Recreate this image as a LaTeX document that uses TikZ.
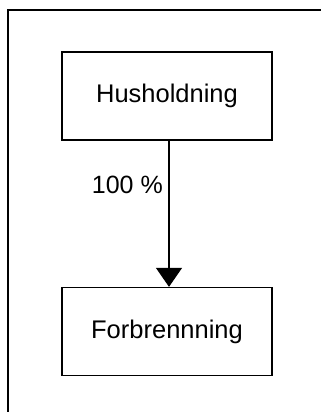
\documentclass[tikz,border=0pt]{standalone}
\usepackage{fontspec}
\setmainfont{Liberation Sans}
\usetikzlibrary{arrows.meta}
\begin{document}
\begin{tikzpicture}[x=1pt,y=-1pt,
  box/.style={draw,line width=1.3pt,minimum width=210pt,minimum height=88pt,inner sep=0pt,
    font=\fontsize{25.5}{30}\selectfont},
  flow/.style={line width=1.2pt,-{Triangle[length=19pt,width=26pt]}},
  lbl/.style={inner sep=0pt,font=\fontsize{25}{30}\selectfont}]
\useasboundingbox (0,0) rectangle (321,412);
\coordinate (fl) at (8,412);
\coordinate (ft) at (8,10);
\coordinate (fr) at (321,10);
\draw[line width=1.2pt] (fl) -- (ft) -- (fr);
\node[box] (hh) at (167,96) {Husholdning};
\node[box] (fb) at (167,331.5) {Forbrennning};
\draw[flow] ([xshift=2pt]hh.south) -- ([xshift=2pt]fb.north);
\node[lbl,anchor=base east] (pct) at (163,193) {100 \%};
\end{tikzpicture}
\end{document}
